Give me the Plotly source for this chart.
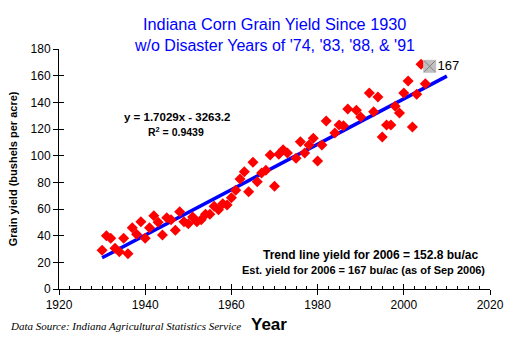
import plotly.graph_objects as go

years = [1930, 1931, 1932, 1933, 1934, 1935, 1936, 1937, 1938, 1939,
         1940, 1941, 1942, 1943, 1944, 1945, 1946, 1947, 1948, 1949,
         1950, 1951, 1952, 1953, 1954, 1955, 1956, 1957, 1958, 1959,
         1960, 1961, 1962, 1963, 1964, 1965, 1966, 1967, 1968, 1969,
         1970, 1971, 1972, 1973, 1975, 1976, 1977, 1978, 1979,
         1980, 1981, 1982, 1984, 1985, 1986, 1987, 1989,
         1990, 1992, 1993, 1994, 1995, 1996, 1997, 1998, 1999,
         2000, 2001, 2002, 2003, 2004, 2005]
yields = [29, 40, 38, 30.5, 28, 38, 26.5, 46, 41, 50.5,
          38, 46, 55, 50, 40.5, 53.5, 52, 44, 58, 50.5,
          49, 54, 50.5, 52, 56, 56, 62, 59.5, 64, 63,
          68.5, 74, 82.5, 88, 73, 95, 80.5, 87, 89, 100.5,
          77, 101, 104.5, 102, 98, 110.5, 102, 108, 113,
          96, 108, 126, 117, 123, 122.5, 135, 134,
          129, 147, 133, 144, 114, 123, 123, 137, 132,
          147, 156, 121.5, 146, 168.5, 154]

est_year = [2006]
est_yield = [167]

trend_slope = 1.7029
trend_intercept = -3263.2
trend_years = [1930, 2010]
trend_vals = [trend_slope * y + trend_intercept for y in trend_years]

x_ticks = [1920, 1940, 1960, 1980, 2000, 2020]
y_ticks = [0, 20, 40, 60, 80, 100, 120, 140, 160, 180]

FONT = "Arial, Liberation Sans, sans-serif"

fig = go.Figure()
fig.add_trace(go.Scatter(x=trend_years, y=trend_vals, mode="lines",
                         line=dict(color="#0000ff", width=3.5), showlegend=False,
                         hoverinfo="skip"))
fig.add_trace(go.Scatter(x=years, y=yields, mode="markers",
                         marker=dict(symbol="diamond", size=8.5, color="#ff0000",
                                     line=dict(width=0)),
                         showlegend=False))
fig.add_trace(go.Scatter(x=est_year, y=est_yield, mode="markers",
                         marker=dict(symbol="square", size=13, color="#c0c0c0",
                                     line=dict(width=0)),
                         showlegend=False))
fig.add_trace(go.Scatter(x=est_year, y=est_yield, mode="markers+text",
                         marker=dict(symbol="x-thin", size=11,
                                     line=dict(width=1, color="#808080")),
                         text=[str(v) for v in est_yield], textposition="middle right",
                         textfont=dict(family=FONT, size=13, color="black"),
                         showlegend=False))
# overlay axes for the crossing ticks
fig.add_trace(go.Scatter(x=[1920], y=[0], xaxis="x2", yaxis="y2", mode="markers",
                         marker=dict(opacity=0), showlegend=False, hoverinfo="skip"))

L, R, T, B = 59, 492, 49, 289
W, H = 516, 347

fig.update_layout(
    width=W, height=H,
    margin=dict(l=L, r=W - R, t=T, b=H - B),
    paper_bgcolor="white", plot_bgcolor="white",
    font=dict(family=FONT, size=12, color="black"),
    xaxis=dict(range=[1920, 2020], tickvals=x_ticks, ticks="outside", ticklen=5,
               tickcolor="black", showgrid=False, zeroline=False, showline=True,
               linecolor="black", linewidth=1,
               tickfont=dict(family=FONT, size=12, color="black")),
    yaxis=dict(range=[0, 180], tickvals=y_ticks, ticks="outside", ticklen=5,
               tickcolor="black", showgrid=False, zeroline=False, showline=True,
               linecolor="black", linewidth=1,
               tickfont=dict(family=FONT, size=12, color="black")),
    xaxis2=dict(range=[1920, 2020], overlaying="x", anchor="y2", tickvals=x_ticks,
                ticks="inside", ticklen=5, tickcolor="black", showticklabels=False,
                showgrid=False, zeroline=False, showline=False,
                minor=dict(ticks="inside", ticklen=3, dtick=2.5, tick0=1920,
                           tickcolor="black", showgrid=False)),
    yaxis2=dict(range=[0, 180], overlaying="y", anchor="x2", tickvals=y_ticks,
                ticks="inside", ticklen=5, tickcolor="black", showticklabels=False,
                showgrid=False, zeroline=False, showline=False),
)


def px(xp):
    return (xp - L) / (R - L)


def py(yp):
    return (B - yp) / (B - T)


ann = [
    dict(text="Indiana Corn Grain Yield Since 1930", x=0.5, xref="paper", y=py(24),
         size=16.3, color="#0000ff", bold=False, xanchor="center"),
    dict(text="w/o Disaster Years of '74, '83, '88, & '91", x=0.5, xref="paper", y=py(45),
         size=16, color="#0000ff", bold=False, xanchor="center"),
    dict(text="y = 1.7029x - 3263.2", x=px(178), y=py(117), size=11.5, color="black",
         bold=True, xanchor="center"),
    dict(text="R<sup>2</sup> = 0.9439", x=px(177), y=py(131), size=10.5, color="black",
         bold=True, xanchor="center"),
    dict(text="Trend line yield for 2006 = 152.8 bu/ac", x=px(482), y=py(255), size=12,
         color="black", bold=True, xanchor="right"),
    dict(text="Est. yield for 2006 = 167 bu/ac (as of Sep 2006)", x=px(489), y=py(270),
         size=11, color="black", bold=True, xanchor="right"),
    dict(text="Year", x=px(270), y=py(324), size=17, color="black", bold=True,
         xanchor="center"),
]
for a in ann:
    t = "<b>" + a["text"] + "</b>" if a["bold"] else a["text"]
    fig.add_annotation(text=t, x=a["x"], y=a["y"], xref="paper", yref="paper",
                       xanchor=a["xanchor"], yanchor="middle", showarrow=False,
                       font=dict(family=FONT, size=a["size"], color=a["color"]))

fig.add_annotation(text="<b>Grain yield (bushels per acre)</b>", x=px(13), y=py(169),
                   xref="paper", yref="paper", textangle=-90, showarrow=False,
                   xanchor="center", yanchor="middle",
                   font=dict(family=FONT, size=11, color="black"))
fig.add_annotation(text="<i>Data Source: Indiana Agricultural Statistics Service</i>",
                   x=px(8), y=py(326), xref="paper", yref="paper", showarrow=False,
                   xanchor="left", yanchor="middle",
                   font=dict(family="Liberation Serif, Times New Roman, serif", size=11,
                             color="black"))

fig.write_html("out.html")
